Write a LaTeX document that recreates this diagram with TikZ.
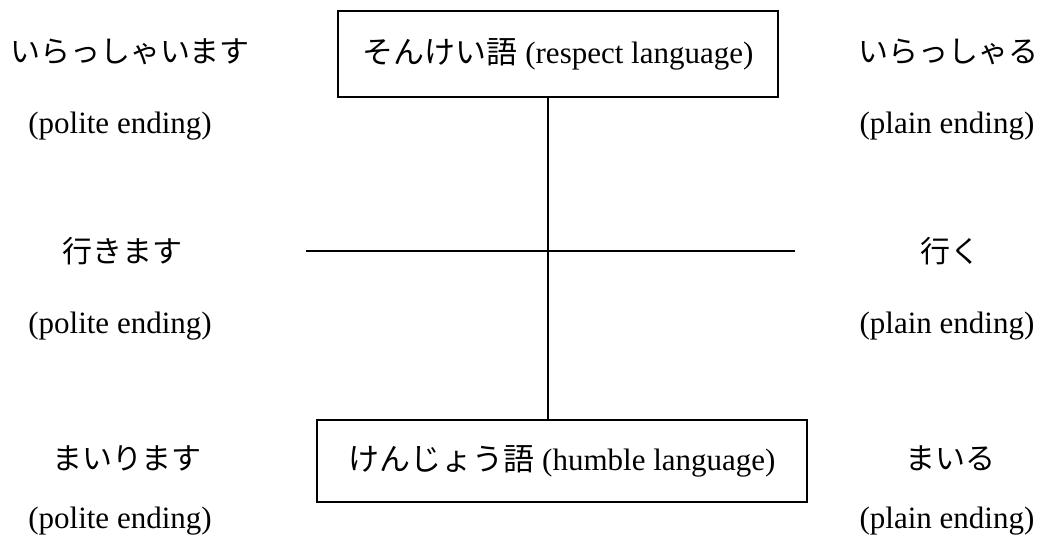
\documentclass[tikz,border=0pt]{standalone}
\usepackage{fontspec}
\setmainfont{Liberation Serif}
\newfontfamily\jp{Noto Sans CJK JP}
\begin{document}
\begin{tikzpicture}[x=1pt,y=-1pt,
  lbl/.style={font=\fontsize{31}{36}\selectfont, inner sep=0pt},
  jlbl/.style={font=\fontsize{30}{36}\selectfont\jp, inner sep=0pt},
  box/.style={draw, line width=1.4pt, inner sep=0pt, font=\fontsize{31}{36}\selectfont},
  conn/.style={line width=2.2pt}]
\useasboundingbox (0,0) rectangle (1047,537);
% boxes
\node[box, minimum width=440pt, minimum height=86pt] (respect) at (558,54) {{\jp そんけい語} (respect language)};
\node[box, minimum width=490pt, minimum height=82pt] (humble) at (562,461) {{\jp けんじょう語} (humble language)};
% left column
\node[jlbl] (irasshaimasu) at (130,52) {いらっしゃいます};
\node[lbl] (polite1) at (120,126) {(polite ending)};
\node[jlbl] (ikimasu) at (122,251) {行きます};
\node[lbl] (polite2) at (120,326) {(polite ending)};
\node[jlbl] (mairimasu) at (127,458) {まいります};
\node[lbl] (polite3) at (120,521) {(polite ending)};
% right column
\node[jlbl] (irassharu) at (948,52) {いらっしゃる};
\node[lbl] (plain1) at (947,126) {(plain ending)};
\node[jlbl] (iku) at (950,251) {行く};
\node[lbl] (plain2) at (947,326) {(plain ending)};
\node[jlbl] (mairu) at (950,458) {まいる};
\node[lbl] (plain3) at (947,521) {(plain ending)};
% connectors
\coordinate (vx) at (548,0);
\coordinate (hl) at (306,251);
\coordinate (hr) at (795,251);
\draw[conn] (respect.south -| vx) -- (humble.north -| vx);
\draw[conn] (hl) -- (hr);
\end{tikzpicture}
\end{document}
